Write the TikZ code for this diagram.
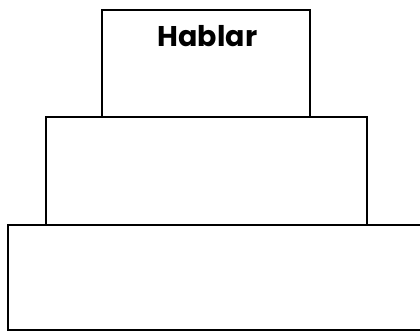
\documentclass[tikz,border=0pt]{standalone}
\usepackage{fontspec}
\setsansfont{Poppins}
\begin{document}
\begin{tikzpicture}[x=1pt, y=-1pt,
    tier/.style={draw, line width=2.4pt, inner sep=0pt, anchor=north west}]
    % Page frame
    \useasboundingbox (0,0) rectangle (420,331);
    \clip (0,0) rectangle (420,331);

    % Three tiers, narrowest on top
    \node[tier, minimum width=208pt, minimum height=107pt] (top) at (101,9) {};
    \node[tier, minimum width=321pt, minimum height=108pt] (mid) at (45,116) {};
    \node[tier, minimum width=440pt, minimum height=105pt] (base) at (7,224) {};

    % Label
    \node[font=\sffamily\bfseries\fontsize{28.5}{34}\selectfont, anchor=base]
        (word) at (207.5,47) {Hablar};
\end{tikzpicture}
\end{document}
